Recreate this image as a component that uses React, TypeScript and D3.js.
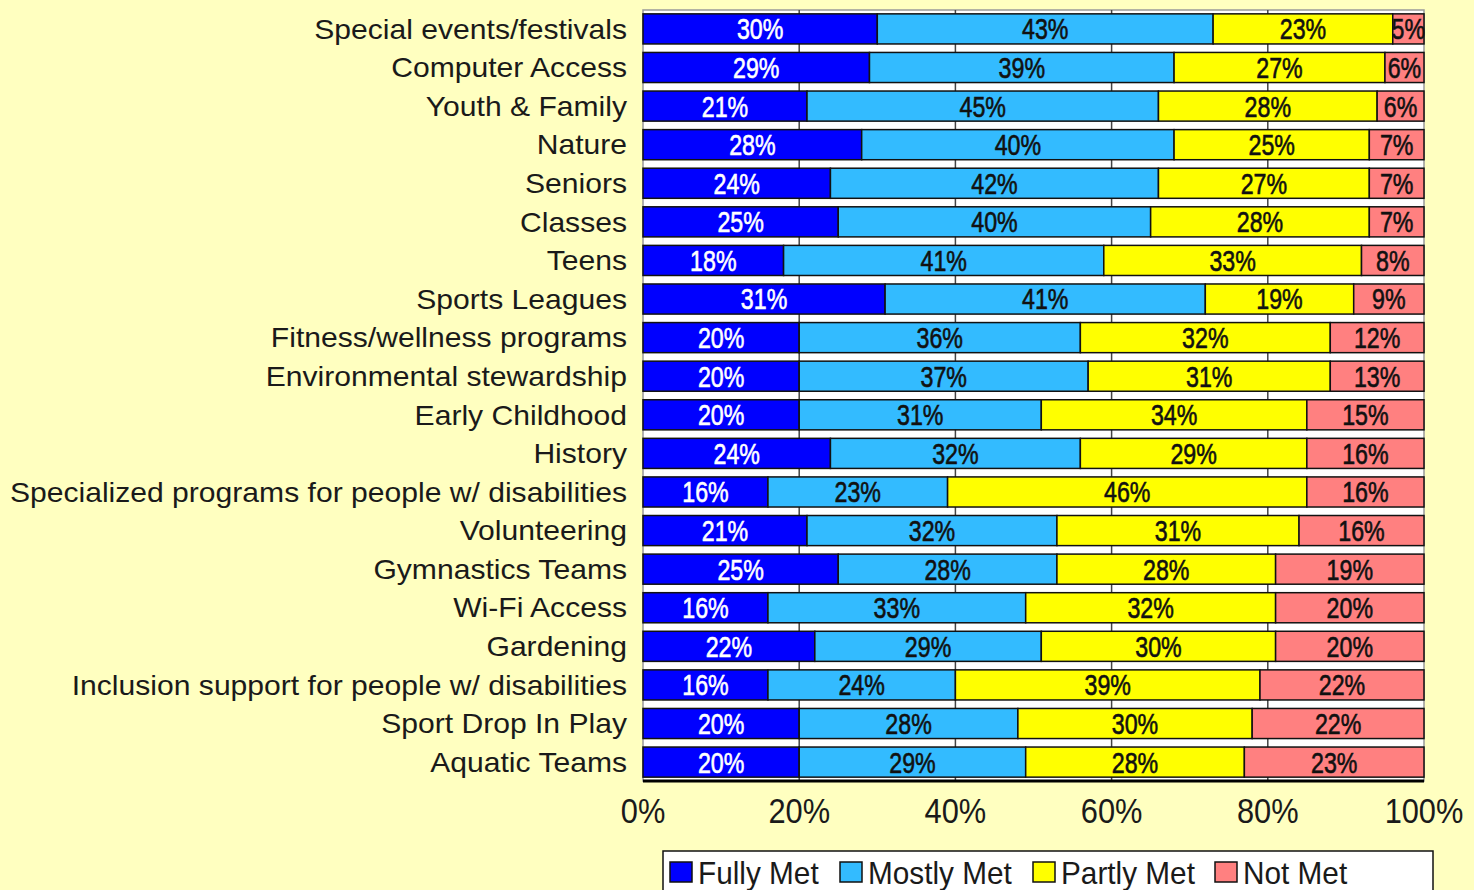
import React, { useEffect, useRef } from 'react';
import * as d3 from 'd3';

const categories = [
  'Special events/festivals',
  'Computer Access',
  'Youth & Family',
  'Nature',
  'Seniors',
  'Classes',
  'Teens',
  'Sports Leagues',
  'Fitness/wellness programs',
  'Environmental stewardship',
  'Early Childhood',
  'History',
  'Specialized programs for people w/ disabilities',
  'Volunteering',
  'Gymnastics Teams',
  'Wi-Fi Access',
  'Gardening',
  'Inclusion support for people w/ disabilities',
  'Sport Drop In Play',
  'Aquatic Teams',
];

const fullyMet = [30, 29, 21, 28, 24, 25, 18, 31, 20, 20, 20, 24, 16, 21, 25, 16, 22, 16, 20, 20];
const mostlyMet = [43, 39, 45, 40, 42, 40, 41, 41, 36, 37, 31, 32, 23, 32, 28, 33, 29, 24, 28, 29];
const partlyMet = [23, 27, 28, 25, 27, 28, 33, 19, 32, 31, 34, 29, 46, 31, 28, 32, 30, 39, 30, 28];
const notMet = [5, 6, 6, 7, 7, 7, 8, 9, 12, 13, 15, 16, 16, 16, 19, 20, 20, 22, 22, 23];

const seriesNames = ['Fully Met', 'Mostly Met', 'Partly Met', 'Not Met'];
const seriesColors = ['#0000ff', '#33bbff', '#ffff00', '#ff8080'];
const labelColors = ['#ffffff', '#111111', '#111111', '#111111'];
const xTicks = [0, 20, 40, 60, 80, 100];

const sans = '"Liberation Sans", Arial, sans-serif';

// text squeezed/stretched horizontally (the original uses a narrow face)
const addText = (sel: any, x: number, y: number, txt: string, size: number, sx: number, anchor: string, fill: string, sw = 0) =>
  sel.append('text')
    .attr('transform', `translate(${x},${y}) scale(${sx},1)`)
    .attr('dy', '0.36em')
    .attr('text-anchor', anchor)
    .attr('font-family', sans)
    .attr('font-size', size)
    .attr('fill', fill)
    .attr('stroke', sw ? fill : 'none')
    .attr('stroke-width', sw)
    .text(txt);

const App = () => {
  const svgRef = useRef<SVGSVGElement>(null);

  useEffect(() => {
    const svg = d3.select(svgRef.current);
    svg.selectAll('*').remove();

    const left = 643;
    const right = 1424;
    const top = 10;
    const bottom = 781;

    const rows = categories.map((c, i) => ({
      name: c,
      values: [fullyMet[i], mostlyMet[i], partlyMet[i], notMet[i]],
    }));

    const x = d3.scaleLinear().domain([0, 100]).range([left, right]);
    const y = d3.scaleBand()
      .domain(categories)
      .range([top, bottom])
      .paddingInner(0.22)
      .paddingOuter(0.1);

    svg.append('rect')
      .attr('width', 1474).attr('height', 890)
      .attr('fill', '#ffffc0');

    // plot area
    svg.append('rect')
      .attr('x', left).attr('y', top)
      .attr('width', right - left).attr('height', bottom - top)
      .attr('fill', '#ffffff')
      .attr('stroke', '#999999')
      .attr('stroke-width', 1.5);

    svg.append('g')
      .selectAll('line')
      .data(xTicks.slice(1, -1))
      .enter()
      .append('line')
      .attr('x1', d => x(d)).attr('x2', d => x(d))
      .attr('y1', top).attr('y2', bottom)
      .attr('stroke', '#444')
      .attr('stroke-width', 1.5);

    const g = svg.append('g');
    rows.forEach(r => {
      let acc = 0;
      r.values.forEach((v, k) => {
        const x0 = Math.min(acc, 100);
        const x1 = Math.min(acc + v, 100);
        acc += v;
        const yy = y(r.name)!;
        g.append('rect')
          .attr('x', x(x0)).attr('y', yy)
          .attr('width', x(x1) - x(x0)).attr('height', y.bandwidth())
          .attr('fill', seriesColors[k])
          .attr('stroke', '#111')
          .attr('stroke-width', 1.5);
        addText(g, (x(x0) + x(x1)) / 2, yy + y.bandwidth() / 2, `${v}%`, 29, 0.8, 'middle', labelColors[k], 0.6);
      });
    });

    // bottom edge
    svg.append('line')
      .attr('x1', left).attr('x2', right)
      .attr('y1', bottom).attr('y2', bottom)
      .attr('stroke', '#000').attr('stroke-width', 3);

    // category labels
    const cg = svg.append('g');
    categories.forEach(c => {
      addText(cg, 627, y(c)! + y.bandwidth() / 2, c, 27, 1.115, 'end', '#1a1a1a');
    });

    // x tick labels
    const tg = svg.append('g');
    xTicks.forEach(t => {
      addText(tg, x(t), 810, `${t}%`, 35, 0.88, 'middle', '#1a1a1a');
    });

    // legend
    const lg = svg.append('g');
    lg.append('rect')
      .attr('x', 663).attr('y', 851)
      .attr('width', 770).attr('height', 50)
      .attr('fill', '#fff')
      .attr('stroke', '#111')
      .attr('stroke-width', 1.5);
    const legendX = [670, 840, 1033, 1215];
    seriesNames.forEach((s, k) => {
      lg.append('rect')
        .attr('x', legendX[k]).attr('y', 862)
        .attr('width', 22).attr('height', 20)
        .attr('fill', seriesColors[k])
        .attr('stroke', '#111')
        .attr('stroke-width', 1.5);
      addText(lg, legendX[k] + 28, 872, s, 32, 0.93, 'start', '#1a1a1a');
    });
  }, []);

  return (
    <svg
      ref={svgRef}
      width={1474}
      height={890}
      style={{ position: 'absolute', left: 0, top: 0 }}
    />
  );
};

export default App;
